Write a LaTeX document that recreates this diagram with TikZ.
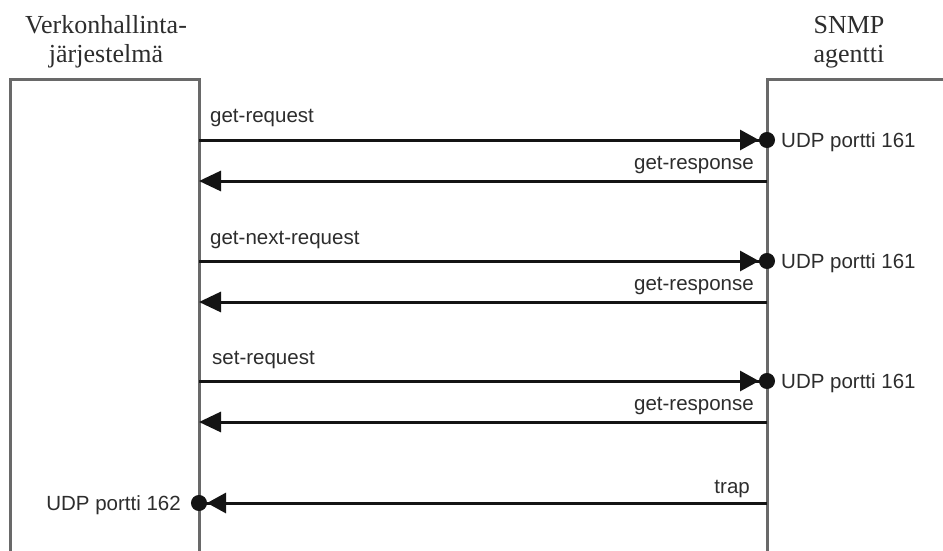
\documentclass[tikz,border=0pt]{standalone}
\usepackage{fontspec}
\setmainfont{Liberation Serif}
\setsansfont{Liberation Sans}
\usetikzlibrary{arrows.meta}
\definecolor{boxgray}{RGB}{105,105,105}
\definecolor{inkgray}{RGB}{45,45,45}
\definecolor{linedark}{RGB}{20,20,20}
\begin{document}
\begin{tikzpicture}[x=1pt,y=-1pt,
  title/.style={font=\fontsize{26}{30}\selectfont, text=inkgray, inner sep=0pt, anchor=base},
  lbl/.style={font=\sffamily\fontsize{20.5}{24}\selectfont, text=inkgray, inner sep=0pt},
  lifebox/.style={draw=boxgray, line width=3pt},
  msg/.style={draw=linedark, line width=3pt},
  port/.style={msg, -{Triangle[length=19pt,width=20pt]Circle[length=16pt]}, shorten >=-8pt},
  reply/.style={msg, -{Triangle[length=22pt,width=20pt]}}
]
\useasboundingbox (0,0) rectangle (943,550);
\fill[white] (0,0) rectangle (943,550);

% Titles
\node[title] (mgr1) at (106,33) {Verkonhallinta-};
\node[title] (mgr2) at (106,62) {järjestelmä};
\node[title] (agt1) at (849,33) {SNMP};
\node[title] (agt2) at (849,62) {agentti};

% The two participants, open at the bottom
\draw[lifebox] (10,552) -- (10,79) -- (199,79) -- (199,552);
\draw[lifebox] (767,552) -- (767,79) -- (945,79);

% Message end points on the participant edges
\foreach \n/\y in {1/140,2/181,3/261,4/302,5/381,6/422,7/503}{
  \coordinate (L\n) at (199,\y);
  \coordinate (R\n) at (767,\y);
}

% Requests and replies
\draw[port]  (L1) -- (R1);
\draw[reply] (R2) -- (L2);
\draw[port]  (L3) -- (R3);
\draw[reply] (R4) -- (L4);
\draw[port]  (L5) -- (R5);
\draw[reply] (R6) -- (L6);
\draw[port]  (R7) -- (L7);

% Message labels
\node[lbl, anchor=base west] (q1) at (210,122) {get-request};
\node[lbl, anchor=base east] (a1) at (754,169) {get-response};
\node[lbl, anchor=base west] (q2) at (210,244) {get-next-request};
\node[lbl, anchor=base east] (a2) at (754,290) {get-response};
\node[lbl, anchor=base west] (q3) at (212,364) {set-request};
\node[lbl, anchor=base east] (a3) at (754,410) {get-response};
\node[lbl, anchor=base east] (tr) at (750,493) {trap};

% Port labels
\node[lbl, anchor=base west] (p1) at (781,147) {UDP portti 161};
\node[lbl, anchor=base west] (p2) at (781,268) {UDP portti 161};
\node[lbl, anchor=base west] (p3) at (781,388) {UDP portti 161};
\node[lbl, anchor=base east] (p4) at (181,510) {UDP portti 162};
\end{tikzpicture}
\end{document}
